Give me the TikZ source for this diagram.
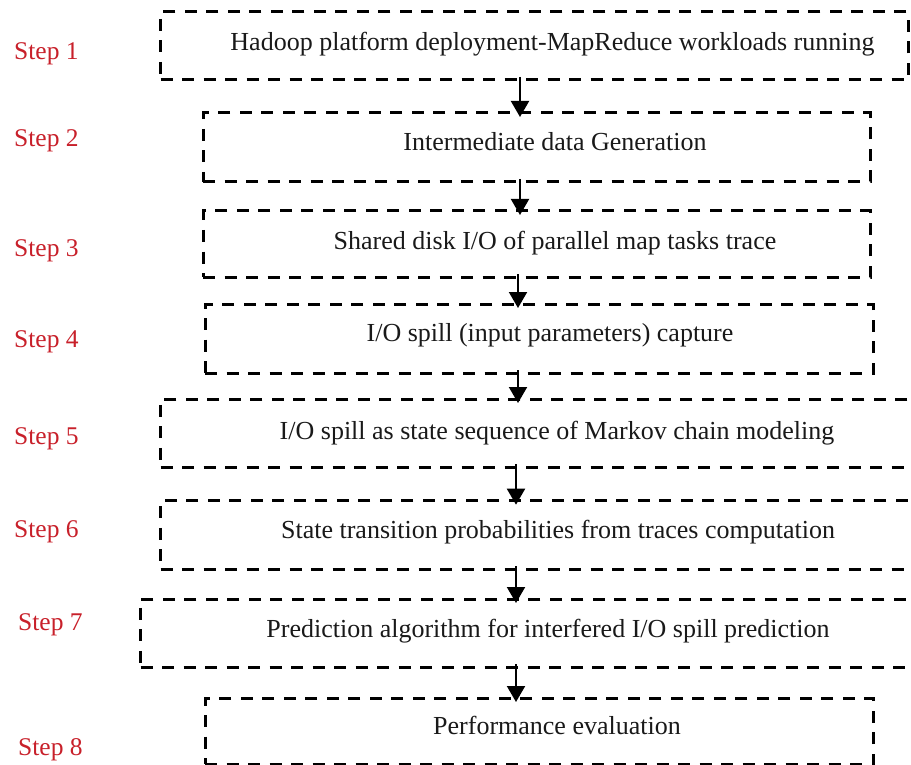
\documentclass[tikz,border=0pt]{standalone}
\usepackage{fontspec}
\setmainfont{Liberation Serif}
\usetikzlibrary{arrows.meta}
\definecolor{stepred}{RGB}{200,32,42}
\begin{document}
\begin{tikzpicture}[x=1pt,y=-1pt,
  box/.style={draw=black, line width=3pt, dash pattern=on 12pt off 9.5pt, inner sep=0pt, outer sep=0pt},
  txt/.style={anchor=base, inner sep=0pt, text=black!90, font=\fontsize{26}{30}\selectfont},
  steplbl/.style={anchor=base west, inner sep=0pt, text=stepred, font=\fontsize{25.5}{30}\selectfont},
  arr/.style={draw=black, line width=2pt, -{Triangle[length=16pt,width=18pt]}, shorten <=-3pt, shorten >=-4pt}]
\clip (0,0) rectangle (911,765);
% boxes
\node[box, minimum width=747.3pt, minimum height=68pt] (b1) at (534.35,46) {};
\node[box, minimum width=667pt, minimum height=69pt] (b2) at (536.5,147.5) {};
\node[box, minimum width=667pt, minimum height=66pt] (b3) at (536.5,244) {};
\node[box, minimum width=668pt, minimum height=69pt] (b4) at (539,338.5) {};
\node[box, minimum width=769.3pt, minimum height=68pt] (b5) at (545.35,433) {};
\node[box, minimum width=769.3pt, minimum height=68.3pt] (b6) at (545.35,534.85) {};
\node[box, minimum width=789.3pt, minimum height=68pt] (b7) at (535.35,633) {};
\node[box, minimum width=668pt, minimum height=66pt] (b8) at (539,731) {};
% texts
\node[txt] (t1) at (552.5,51) {Hadoop platform deployment-MapReduce workloads running};
\node[txt] (t2) at (555,151) {Intermediate data Generation};
\node[txt] (t3) at (555,249) {Shared disk I/O of parallel map tasks trace};
\node[txt] (t4) at (550,341) {I/O spill (input parameters) capture};
\node[txt] (t5) at (557,439) {I/O spill as state sequence of Markov chain modeling};
\node[txt] (t6) at (558,538) {State transition probabilities from traces computation};
\node[txt] (t7) at (548,637) {Prediction algorithm for interfered I/O spill prediction};
\node[txt] (t8) at (557,734) {Performance evaluation};
% step labels
\node[steplbl] (s1) at (14,59.3) {Step 1};
\node[steplbl] (s2) at (14,147) {Step 2};
\node[steplbl] (s3) at (14,256) {Step 3};
\node[steplbl] (s4) at (14,347) {Step 4};
\node[steplbl] (s5) at (14,444) {Step 5};
\node[steplbl] (s6) at (14,537) {Step 6};
\node[steplbl] (s7) at (18,630) {Step 7};
\node[steplbl] (s8) at (18,755) {Step 8};
% arrow columns
\coordinate (c1) at (520,0);
\coordinate (c2) at (520,0);
\coordinate (c3) at (518,0);
\coordinate (c4) at (518,0);
\coordinate (c5) at (516,0);
\coordinate (c6) at (516,0);
\coordinate (c7) at (516,0);
\draw[arr] (c1 |- b1.south) -- (c1 |- b2.north);
\draw[arr] (c2 |- b2.south) -- (c2 |- b3.north);
\draw[arr] (c3 |- b3.south) -- (c3 |- b4.north);
\draw[arr] (c4 |- b4.south) -- (c4 |- b5.north);
\draw[arr] (c5 |- b5.south) -- (c5 |- b6.north);
\draw[arr] (c6 |- b6.south) -- (c6 |- b7.north);
\draw[arr] (c7 |- b7.south) -- (c7 |- b8.north);
\end{tikzpicture}
\end{document}
